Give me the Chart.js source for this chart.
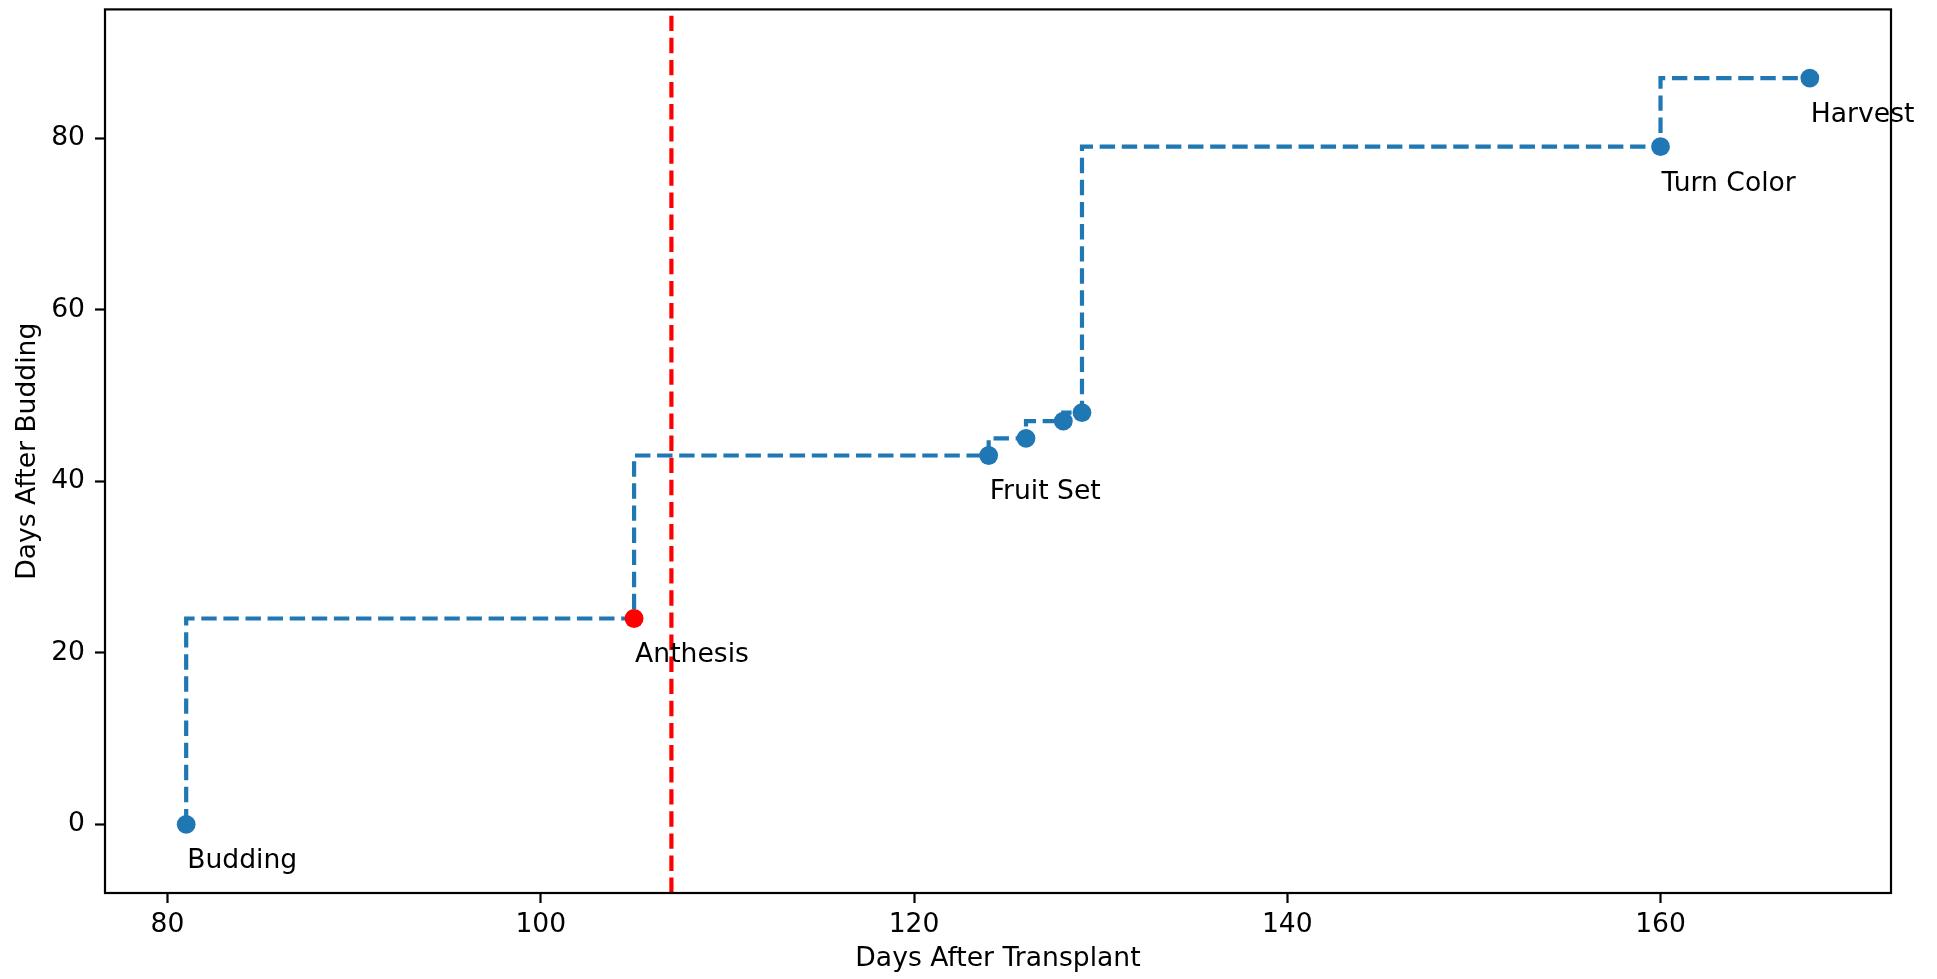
<!DOCTYPE html>
<html>
<head>
<meta charset="utf-8">
<script src="https://cdn.jsdelivr.net/npm/chart.js@4/dist/chart.umd.min.js"></script>
<style>
  html, body { margin: 0; padding: 0; background: #ffffff; }
  canvas { display: block; }
</style>
</head>
<body>
<canvas id="c" width="1937" height="979"></canvas>
<script>
// ---- data ----
const daysAfterTransplant = [81, 105, 124, 126, 128, 129, 160, 168];
const daysAfterBudding    = [0, 24, 43, 45, 47, 48, 79, 87];
const stageLabels = ['Budding', 'Anthesis', 'Fruit Set', '', '', '', 'Turn Color', 'Harvest'];
const anthesisIndex = 1;
const referenceLineX = 107;
const xTicks = [80, 100, 120, 140, 160];
const yTicks = [0, 20, 40, 60, 80];
const xLimits = [76.65, 172.35];
const yLimits = [-8, 95];

const BLUE = '#1f77b4';
const RED = '#ff0000';
const FONT = 'DejaVu Sans';
const FS = 26.6;

const stepPoints = daysAfterTransplant.map((x, i) => ({ x: x, y: daysAfterBudding[i] }));
const pointColors = daysAfterTransplant.map((_, i) => i === anthesisIndex ? RED : BLUE);
const refLine = [{ x: referenceLineX, y: yLimits[0] }, { x: referenceLineX, y: yLimits[1] }];

const framePlugin = {
  id: 'frameAndLabels',
  afterDatasetsDraw(chart) {
    const { ctx, chartArea: a, scales } = chart;
    ctx.save();
    ctx.strokeStyle = '#000';
    ctx.lineWidth = 2.2;
    ctx.strokeRect(a.left, a.top, a.right - a.left, a.bottom - a.top);
    ctx.fillStyle = '#000';
    ctx.font = FS + 'px "' + FONT + '"';
    ctx.textAlign = 'left';
    ctx.textBaseline = 'alphabetic';
    stageLabels.forEach((lab, i) => {
      if (!lab) return;
      const px = scales.x.getPixelForValue(daysAfterTransplant[i]);
      const py = scales.y.getPixelForValue(daysAfterBudding[i]);
      ctx.fillText(lab, px + 1, py + 44);
    });
    ctx.restore();
  }
};

new Chart(document.getElementById('c'), {
  type: 'line',
  data: {
    datasets: [
      {
        data: stepPoints,
        stepped: 'after',
        borderColor: BLUE,
        borderWidth: 4.2,
        borderDash: [15.4, 6.7],
        pointRadius: 9.4,
        pointHoverRadius: 9.4,
        pointBorderWidth: 0,
        pointBackgroundColor: pointColors,
        pointBorderColor: pointColors,
        fill: false
      },
      {
        data: refLine,
        borderColor: RED,
        borderWidth: 4.2,
        borderDash: [15.4, 6.7],
        pointRadius: 0,
        fill: false
      }
    ]
  },
  options: {
    responsive: false,
    animation: false,
    devicePixelRatio: 1,
    layout: { padding: { left: 0, right: 46, top: 2, bottom: 0 } },
    plugins: { legend: { display: false }, tooltip: { enabled: false } },
    scales: {
      x: {
        type: 'linear',
        min: xLimits[0],
        max: xLimits[1],
        afterBuildTicks: s => { s.ticks = xTicks.map(v => ({ value: v })); },
        afterFit: s => { s.height = 86; s.paddingLeft = 0; s.paddingRight = 0; s.paddingTop = 0; s.paddingBottom = 0; },
        grid: { display: true, drawOnChartArea: false, drawTicks: true, tickLength: 10, tickWidth: 2.2, tickColor: '#000' },
        border: { display: false },
        ticks: { color: '#000', font: { family: FONT, size: FS }, padding: 6, maxRotation: 0 },
        title: { display: true, text: 'Days After Transplant', color: '#000', font: { family: FONT, size: FS }, padding: { top: 0, bottom: 4 } }
      },
      y: {
        type: 'linear',
        min: yLimits[0],
        max: yLimits[1],
        afterBuildTicks: s => { s.ticks = yTicks.map(v => ({ value: v })); },
        afterFit: s => { s.width = 105; s.paddingTop = 0; s.paddingBottom = 0; s.paddingLeft = 0; s.paddingRight = 0; },
        grid: { display: true, drawOnChartArea: false, drawTicks: true, tickLength: 10, tickWidth: 2.2, tickColor: '#000' },
        border: { display: false },
        ticks: { color: '#000', font: { family: FONT, size: FS }, padding: 10 },
        title: { display: true, text: 'Days After Budding', color: '#000', font: { family: FONT, size: FS }, padding: { top: 12, bottom: 0 } }
      }
    }
  },
  plugins: [framePlugin]
});
</script>
</body>
</html>
